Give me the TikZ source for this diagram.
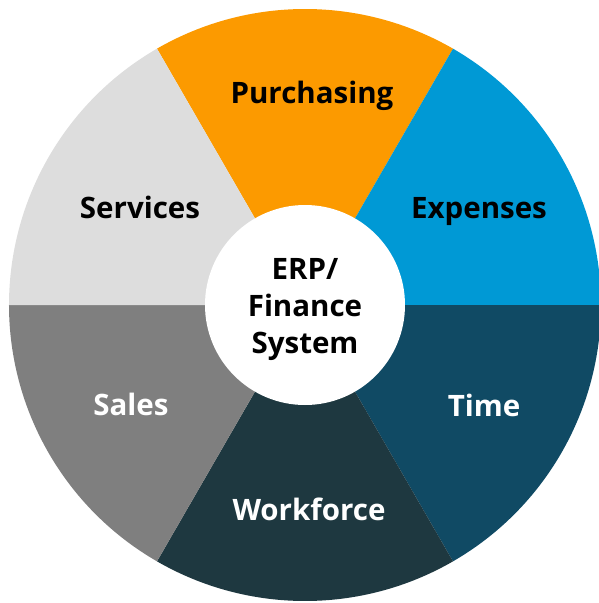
\documentclass[tikz,border=0pt]{standalone}
\usepackage{fontspec}
\setmainfont{Open Sans}
\usepackage{tikz}
\usetikzlibrary{positioning}

\definecolor{purchOrange}{HTML}{FC9A00}
\definecolor{expBlue}{HTML}{0099D5}
\definecolor{timeTeal}{HTML}{104A64}
\definecolor{workDark}{HTML}{1E3840}
\definecolor{salesGray}{HTML}{7F7F7F}
\definecolor{servLight}{HTML}{DDDDDD}

\begin{document}
\begin{tikzpicture}[x=1pt,y=1pt]
  \tikzstyle{slice} = [draw=none];
  \tikzstyle{label} = [font={\fontsize{29.5}{37}\selectfont\bfseries}, align=center, anchor=base];
  \tikzstyle{hub} = [circle, fill=white, minimum size=200pt, inner sep=0pt];

  \useasboundingbox (-305,-298) rectangle (293,305);

  % the six sectors
  \fill[slice,purchOrange] (0,0) -- (120:296) arc (120:60:296) -- cycle;
  \fill[slice,expBlue] (0,0) -- (60:296) arc (60:0:296) -- cycle;
  \fill[slice,timeTeal] (0,0) -- (0:296) arc (0:-60:296) -- cycle;
  \fill[slice,workDark] (0,0) -- (-60:296) arc (-60:-120:296) -- cycle;
  \fill[slice,salesGray] (0,0) -- (-120:296) arc (-120:-180:296) -- cycle;
  \fill[slice,servLight] (0,0) -- (180:296) arc (180:120:296) -- cycle;

  \node[hub] (erp) at (0,0) {};
  \node[label,anchor=center] (erpText) at (0,-5) {ERP/\\Finance\\System};

  \node[label] (purch) at (7,202) {Purchasing};
  \node[label] (serv) at (-165,87) {Services};
  \node[label] (exp) at (174,87) {Expenses};
  \node[label,white] (sales) at (-174,-110) {Sales};
  \node[label,white] (time) at (179,-111) {Time};
  \node[label,white] (work) at (4,-215) {Workforce};
\end{tikzpicture}
\end{document}
